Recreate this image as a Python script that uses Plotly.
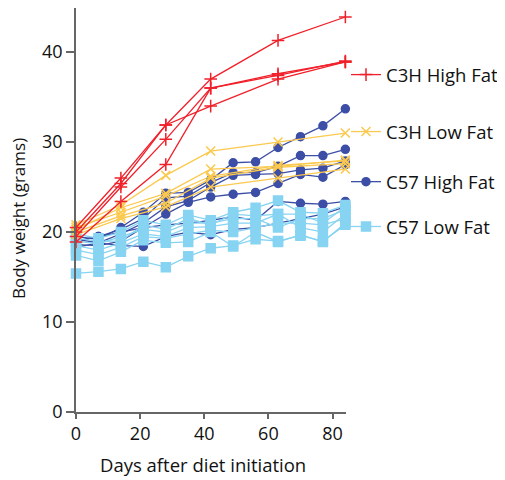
import plotly.graph_objects as go

# ---- data ----
days_c3h = [0, 14, 28, 42, 63, 84]
days_c57 = [0, 7, 14, 21, 28, 35, 42, 49, 56, 63, 70, 77, 84]

c3h_high_fat = [
    [20.5, 26.0, 31.9, 37.0, 41.3, 43.9],
    [20.0, 25.4, 31.9, 34.0, 37.0, 38.9],
    [19.5, 25.0, 30.3, 36.0, 37.6, 38.9],
    [18.9, 23.4, 27.5, 36.0, 37.4, 39.0],
]
c3h_low_fat = [
    [20.8, 23.0, 26.3, 29.0, 30.0, 31.0],
    [20.3, 22.7, 24.3, 27.0, 27.3, 28.0],
    [20.0, 21.8, 23.2, 26.0, 27.2, 27.6],
    [19.7, 21.5, 22.8, 25.0, 26.0, 27.0],
    [20.5, 22.2, 24.0, 26.2, 27.4, 27.9],
]
c57_high_fat = [
    [19.5, 19.2, 20.5, 22.2, 24.3, 24.4, 25.8, 27.7, 27.8, 29.4, 30.6, 31.8, 33.7],
    [19.0, 19.5, 20.3, 21.5, 23.8, 24.0, 25.5, 26.6, 26.6, 27.3, 28.5, 28.5, 29.2],
    [19.2, 18.8, 19.8, 21.0, 22.8, 23.5, 25.0, 26.3, 26.4, 26.5, 26.9, 27.1, 27.9],
    [18.6, 18.5, 19.0, 20.5, 22.0, 23.3, 23.9, 24.2, 24.4, 25.4, 26.4, 26.1, 27.5],
    [19.0, 19.5, 20.0, 20.5, 20.8, 21.0, 21.3, 21.7, 21.3, 23.4, 23.2, 23.1, 23.4],
    [18.3, 18.8, 18.5, 18.4, 19.5, 20.0, 19.7, 20.3, 20.5, 21.0, 21.5, 22.0, 22.8],
]
c57_low_fat = [
    [15.4, 15.6, 15.9, 16.7, 16.1, 17.3, 18.2, 18.5, 19.2, 19.0, 19.6, 19.0, 20.8],
    [19.8, 19.3, 20.0, 21.3, 20.8, 21.9, 21.3, 22.2, 22.7, 23.5, 22.2, 22.1, 23.0],
    [17.4, 16.8, 17.8, 19.1, 18.8, 18.9, 20.0, 18.4, 20.0, 18.9, 19.7, 18.9, 21.0],
    [18.5, 18.0, 18.8, 19.8, 19.5, 20.5, 20.6, 21.0, 21.0, 22.0, 20.5, 20.0, 22.0],
    [19.0, 18.7, 19.5, 20.3, 20.0, 21.0, 21.0, 21.5, 21.5, 20.5, 21.5, 21.5, 22.5],
    [18.0, 17.5, 18.3, 19.5, 19.3, 19.8, 20.2, 20.0, 20.5, 21.0, 21.0, 20.8, 21.5],
    [19.3, 19.0, 19.0, 20.8, 20.3, 21.5, 20.8, 22.0, 21.8, 22.0, 22.0, 21.0, 22.8],
]

x_ticks = [0, 20, 40, 60, 80]
y_ticks = [0, 10, 20, 30, 40]
x_title = "Days after diet initiation"
y_title = "Body weight (grams)"

FONT = "Open Sans"

groups = [
    # name, days, data, color, symbol, size, legend id, legend y
    ("C57 High Fat", days_c57, c57_high_fat, "#3c4ea6", "circle", 8, "legend3", 0.569),
    ("C57 Low Fat", days_c57, c57_low_fat, "#86d3f2", "square", 9, "legend4", 0.458),
    ("C3H Low Fat", days_c3h, c3h_low_fat, "#fbc94e", "x-thin", 9, "legend2", 0.693),
    ("C3H High Fat", days_c3h, c3h_high_fat, "#f0202a", "cross-thin", 9, "legend", 0.834),
]

fig = go.Figure()
for name, days, data, color, symbol, size, leg, _ in groups:
    for i, ys in enumerate(data):
        fig.add_trace(go.Scatter(
            x=days, y=ys, mode="lines+markers", name=name,
            legend=leg, showlegend=(i == 0), legendgroup=name,
            line=dict(color=color, width=1.3),
            marker=dict(symbol=symbol, size=size, color=color,
                        line=dict(color=color, width=1.5)),
            cliponaxis=False,
        ))

legend_common = dict(x=1.0, xanchor="left", yanchor="middle",
                     bgcolor="rgba(0,0,0,0)", borderwidth=0,
                     font=dict(family=FONT, size=18.5, color="#111"))
layout_legends = {}
for name, days, data, color, symbol, size, leg, ly in groups:
    layout_legends[leg] = dict(legend_common, y=ly)

fig.update_layout(
    width=497, height=472,
    margin=dict(l=68, r=159, t=0, b=68, autoexpand=False),
    paper_bgcolor="white", plot_bgcolor="white",
    font=dict(family=FONT, size=16, color="#111"),
    xaxis=dict(range=[0, 84.2], tickvals=x_ticks, showgrid=False, zeroline=False,
               showline=True, linecolor="#666", linewidth=1.5, automargin=False,
               ticks="outside", ticklen=5, tickcolor="#666", tickwidth=1.5,
               tickfont=dict(size=18)),
    yaxis=dict(range=[0, 44.9], tickvals=y_ticks, showgrid=False, zeroline=False,
               showline=True, linecolor="#666", linewidth=1.5, automargin=False,
               ticks="outside", ticklen=8, tickcolor="#666", tickwidth=1.5,
               tickfont=dict(size=18)),
    annotations=[
        dict(text=x_title, xref="paper", yref="paper", x=0.470, y=-0.131,
             showarrow=False, xanchor="center", yanchor="middle",
             font=dict(family=FONT, size=18.5, color="#111")),
        dict(text=y_title, xref="paper", yref="paper", x=-0.215, y=0.480,
             showarrow=False, xanchor="center", yanchor="middle", textangle=-90,
             font=dict(family=FONT, size=17, color="#111")),
    ],
    **layout_legends,
)

fig.write_html("out.html")
